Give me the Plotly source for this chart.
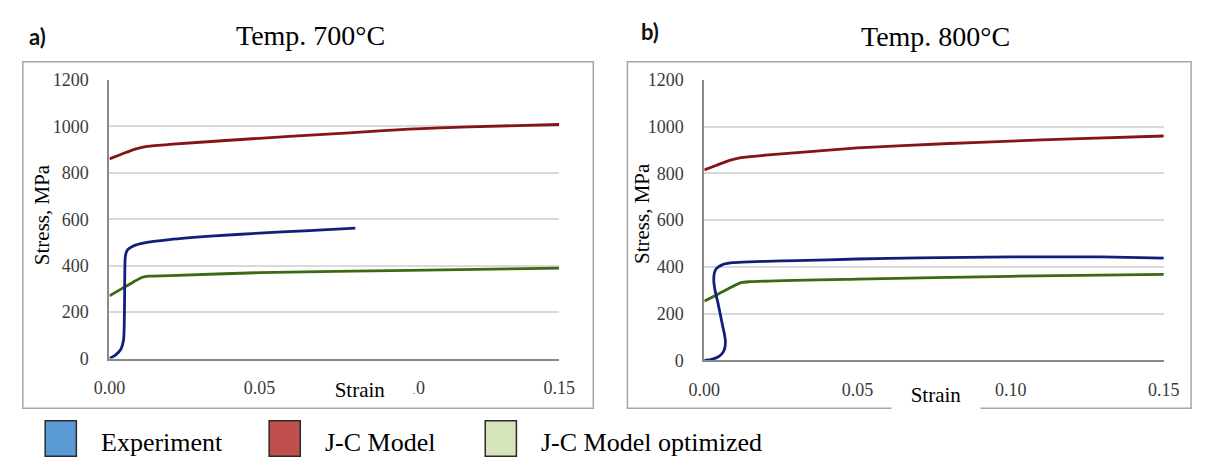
import plotly.graph_objects as go

W, H = 1210, 471

# ---- data ----
strain_a_exp = [0, 0.002, 0.0038, 0.0047, 0.0050, 0.0051, 0.0053, 0.0060, 0.0078, 0.0117, 0.02, 0.035, 0.05, 0.065, 0.082]
stress_a_exp = [0, 15, 40, 80, 200, 350, 440, 468, 484, 498, 512, 528, 540, 550, 562]
strain_a_jc = [0, 0.004, 0.008, 0.012, 0.02, 0.04, 0.06, 0.08, 0.10, 0.12, 0.15]
stress_a_jc = [860, 880, 900, 913, 922, 940, 957, 972, 988, 998, 1008]
strain_a_opt = [0, 0.004, 0.008, 0.011, 0.013, 0.02, 0.05, 0.10, 0.15]
stress_a_opt = [270, 300, 330, 350, 355, 357, 370, 380, 389]

strain_b_exp = [0, 0.002, 0.0039, 0.0055, 0.0065, 0.0069, 0.0066, 0.006, 0.0045, 0.0035, 0.0031, 0.0033,
                0.0039, 0.006, 0.0092, 0.0124, 0.02, 0.03, 0.05, 0.07, 0.10, 0.13, 0.15]
stress_b_exp = [0, 4, 11, 25, 45, 79, 110, 147, 243, 300, 340, 375,
                393, 410, 418, 421, 424, 427, 434, 439, 443, 443, 438]
strain_b_jc = [0, 0.004, 0.008, 0.012, 0.02, 0.05, 0.08, 0.10, 0.12, 0.15]
stress_b_jc = [815, 835, 855, 868, 878, 909, 928, 938, 948, 960]
strain_b_opt = [0, 0.004, 0.008, 0.012, 0.015, 0.05, 0.10, 0.15]
stress_b_opt = [254, 280, 308, 333, 337, 348, 360, 368]

x_ticks = [0, 0.05, 0.10, 0.15]
y_ticks = [0, 200, 400, 600, 800, 1000, 1200]
panel_titles = ["Temp. 700°C", "Temp. 800°C"]
panel_letters = ["a)", "b)"]
legend_names = ["Experiment", "J-C Model", "J-C Model optimized"]

# ---- styles ----
line_colors = ["#10207A", "#861414", "#3A6A12"]
legend_fill = ["#5B9BD5", "#C0504D", "#D6E4BB"]
SERIF = "Liberation Serif, Times New Roman, serif"

def px(x):
    return x / W

def py(y):
    return (H - y) / H

fig = go.Figure()

panels = [
    (strain_a_exp, stress_a_exp, strain_a_jc, stress_a_jc, strain_a_opt, stress_a_opt, "x", "y"),
    (strain_b_exp, stress_b_exp, strain_b_jc, stress_b_jc, strain_b_opt, stress_b_opt, "x2", "y2"),
]
for (sx_e, sy_e, sx_j, sy_j, sx_o, sy_o, xa, ya) in panels:
    for sx, sy, c in [(sx_j, sy_j, line_colors[1]), (sx_o, sy_o, line_colors[2]), (sx_e, sy_e, line_colors[0])]:
        fig.add_trace(go.Scatter(x=sx, y=sy, mode="lines", xaxis=xa, yaxis=ya,
                                 line=dict(color=c, width=2.8, shape="spline", smoothing=0.6),
                                 showlegend=False, hoverinfo="skip"))

axis_common = dict(showline=True, linecolor="#8A8A8A", linewidth=2, ticks="",
                   tickfont=dict(family=SERIF, size=18, color="#3A3A3A"), zeroline=False)

domains = [((96, 558), (73, 364)), ((707, 1179), (73, 366))]
for i, ((x0, x1), (ytop, ybot)) in enumerate(domains):
    sfx = "" if i == 0 else "2"
    fig.update_layout(**{
        "xaxis" + sfx: dict(domain=[px(x0), px(x1)], range=[0, 0.15], tickvals=x_ticks,
                             tickformat=".2f", showgrid=False, anchor="y" + sfx,
                             ticklabelstandoff=12, **axis_common),
        "yaxis" + sfx: dict(domain=[py(ybot), py(ytop)], range=[0, 1200], tickvals=y_ticks,
                             showgrid=True, gridcolor="#D9D9D9", gridwidth=2, anchor="x" + sfx,
                             ticklabelstandoff=15, **axis_common),
    })

shapes = []
# panel frames
for (x0, x1) in [(7, 593), (628, 1207)]:
    shapes.append(dict(type="rect", xref="paper", yref="paper", x0=px(x0), x1=px(x1),
                       y0=py(416), y1=py(54), line=dict(color="#A6A6A6", width=1.5),
                       fillcolor="rgba(0,0,0,0)", layer="below"))

annotations = []
def ann(text, x, y, size, family=SERIF, **kw):
    d = dict(text=text, x=px(x), y=py(y), xref="paper", yref="paper", showarrow=False,
             xanchor=kw.pop("xanchor", "center"), yanchor="middle",
             font=dict(family=family, size=size, color=kw.pop("color", "#000000")))
    d.update(kw)
    annotations.append(d)

# panel letters and titles
ann("<b>" + panel_letters[0] + "</b>", 22, 28, 22, family="Lato, Liberation Sans, sans-serif", color="#111111")
ann("<b>" + panel_letters[1] + "</b>", 651, 22, 22, family="Lato, Liberation Sans, sans-serif", color="#111111")
ann(panel_titles[0], 302, 27, 28)
ann(panel_titles[1], 944, 28, 28)
# y axis titles
ann("Stress, MPa", 27, 214, 21, textangle=-90)
ann("Stress, MPa", 643, 212, 21, textangle=-90)
# x axis titles (with white boxes, as in the reference)
ann("Strain", 353, 397, 21, width=104, height=24, bgcolor="#FFFFFF", valign="middle")
ann("Strain", 945, 402, 21, width=86, height=34, bgcolor="#FFFFFF", valign="middle")

# bottom legend
leg_sq = [(30, 62), (260, 292), (482, 514)]
leg_tx = [85, 315, 537]
for i, name in enumerate(legend_names):
    x0, x1 = leg_sq[i]
    shapes.append(dict(type="rect", xref="paper", yref="paper", x0=px(x0), x1=px(x1),
                       y0=py(466), y1=py(429), line=dict(color="#2A2A2A", width=1.5),
                       fillcolor=legend_fill[i], layer="above"))
    ann(name, leg_tx[i], 452, 26, xanchor="left")

fig.update_layout(width=W, height=H, margin=dict(l=0, r=0, t=0, b=0),
                  paper_bgcolor="#FFFFFF", plot_bgcolor="#FFFFFF",
                  shapes=shapes, annotations=annotations, showlegend=False)

# page body without default margin so the 1210x471 figure fills the window exactly
fig.write_html("out.html", config={"displayModeBar": False},
               post_script="document.body.style.margin='0';document.body.style.overflow='hidden';")
